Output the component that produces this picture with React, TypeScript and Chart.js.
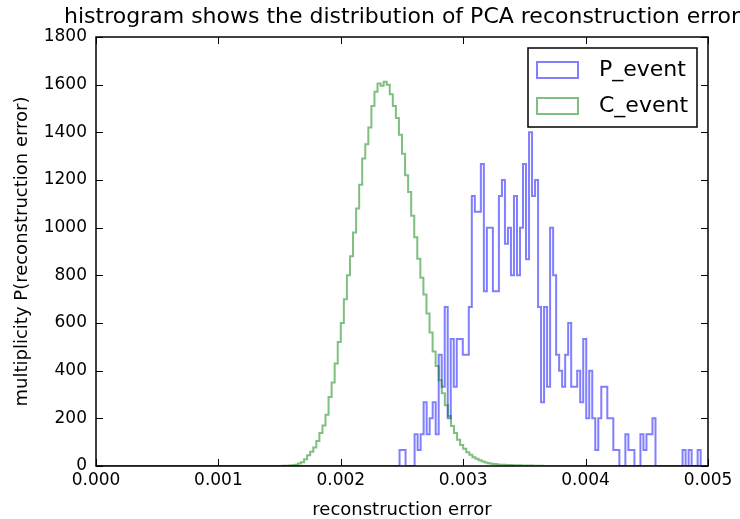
import React, { useEffect, useRef } from "react";
import { Chart, registerables } from "chart.js";
Chart.register(...registerables);

const FONT = '"DejaVu Sans", sans-serif';

const titleText = "histrogram shows the distribution of PCA reconstruction error";
const xTitle = "reconstruction error";
const yTitle = "multiplicity P(reconstruction error)";
const seriesNames = ["P_event", "C_event"];

const xMin = 0;
const xMax = 0.005;
const xStep = 0.001;
const yMin = 0;
const yMax = 1800;
const yStep = 200;

// C_event histogram: bin width and first non-empty bin start
const greenBinWidth = 0.000025;
const greenStart = 0.0015;
const greenCounts = [
  0, 1, 1, 2, 3, 5, 10, 16, 28, 45,
  60, 78, 105, 138, 170, 215, 290, 350, 430, 520,
  600, 700, 800, 880, 980, 1080, 1180, 1290, 1350, 1420,
  1510, 1570, 1605, 1595, 1612, 1600, 1560, 1510, 1460, 1390,
  1310, 1220, 1150, 1050, 960, 870, 790, 720, 640, 560,
  480, 420, 360, 305, 255, 210, 168, 138, 110, 88,
  72, 58, 47, 37, 30, 24, 19, 15, 12, 9,
  8, 6, 5, 5, 4, 4, 3, 3, 3, 2,
  2, 2, 2, 1, 1, 1,
];

// P_event histogram
const blueStart = 0.00248;
const blueEnd = 0.00494;
const blueCounts = [
  67, 67, 0, 0, 0, 133, 67, 133, 267, 133,
  200, 267, 133, 467, 333, 667, 200, 533, 333, 533,
  533, 467, 467, 667, 1133, 1067, 1067, 1267, 733, 1000,
  1000, 733, 733, 1133, 1200, 933, 1000, 800, 1133, 800,
  1000, 1267, 867, 1400, 1133, 1200, 667, 267, 667, 333,
  1000, 800, 467, 400, 333, 467, 600, 333, 333, 400,
  267, 533, 200, 400, 200, 67, 200, 333, 333, 200,
  200, 67, 67, 0, 0, 133, 67, 67, 0, 0,
  133, 67, 133, 133, 200, 0, 0, 0, 0, 0,
  0, 0, 0, 0, 67, 0, 67, 0, 0, 67,
];

const blueColor = "rgba(0,0,255,0.5)";
const greenColor = "rgba(0,128,0,0.5)";

function stepPoints(start: number, width: number, counts: number[]) {
  const pts: { x: number; y: number }[] = [{ x: xMin, y: 0 }, { x: start, y: 0 }];
  counts.forEach((c, i) => pts.push({ x: start + i * width, y: c }));
  const end = start + counts.length * width;
  pts.push({ x: end, y: 0 });
  if (end < xMax) pts.push({ x: xMax, y: 0 });
  return pts;
}

const decorPlugin = {
  id: "decor",
  afterDatasetsDraw(chart: any) {
    const { ctx, chartArea: a, scales } = chart;
    const line = (x1: number, y1: number, x2: number, y2: number) => {
      ctx.beginPath();
      ctx.moveTo(x1, y1);
      ctx.lineTo(x2, y2);
      ctx.stroke();
    };
    ctx.save();
    ctx.strokeStyle = "#000";
    ctx.lineWidth = 1;
    const tl = 7;
    scales.x.ticks.forEach((t: any) => {
      const px = Math.round(scales.x.getPixelForValue(t.value)) + 0.5;
      line(px, a.bottom, px, a.bottom - tl);
      line(px, a.top, px, a.top + tl);
    });
    scales.y.ticks.forEach((t: any) => {
      const py = Math.round(scales.y.getPixelForValue(t.value)) + 0.5;
      line(a.left, py, a.left + tl, py);
      line(a.right, py, a.right - tl, py);
    });
    ctx.lineWidth = 1.5;
    ctx.strokeRect(a.left, a.top, a.right - a.left, a.bottom - a.top);

    // legend
    const lx = 528, ly = 48, lw = 169, lh = 79;
    ctx.fillStyle = "#fff";
    ctx.fillRect(lx, ly, lw, lh);
    ctx.strokeStyle = "#000";
    ctx.lineWidth = 1.5;
    ctx.strokeRect(lx, ly, lw, lh);
    ctx.lineWidth = 2;
    ctx.strokeStyle = blueColor;
    ctx.strokeRect(537, 62, 41, 16);
    ctx.strokeStyle = greenColor;
    ctx.strokeRect(537, 98, 41, 16);
    ctx.fillStyle = "#000";
    ctx.font = `22px ${FONT}`;
    ctx.textAlign = "left";
    ctx.textBaseline = "middle";
    ctx.fillText(seriesNames[0], 599, 70);
    ctx.fillText(seriesNames[1], 599, 106);

    // titles
    const cx = (a.left + a.right) / 2;
    ctx.textAlign = "center";
    ctx.font = `22px ${FONT}`;
    ctx.fillText(titleText, cx, 17);
    ctx.font = `18px ${FONT}`;
    ctx.fillText(xTitle, cx, 510);
    ctx.save();
    ctx.translate(22, (a.top + a.bottom) / 2);
    ctx.rotate(-Math.PI / 2);
    ctx.fillText(yTitle, 0, 0);
    ctx.restore();
    ctx.restore();
  },
};

export default function App() {
  const ref = useRef<HTMLCanvasElement>(null);
  useEffect(() => {
    if (!ref.current) return;
    const chart = new Chart(ref.current, {
      type: "line",
      data: {
        datasets: [
          {
            label: seriesNames[1],
            data: stepPoints(greenStart, greenBinWidth, greenCounts),
            borderColor: greenColor,
            borderWidth: 2,
            pointRadius: 0,
            stepped: "before",
            fill: false,
            order: 0,
          },
          {
            label: seriesNames[0],
            data: stepPoints(blueStart, (blueEnd - blueStart) / blueCounts.length, blueCounts),
            borderColor: blueColor,
            borderWidth: 2,
            pointRadius: 0,
            stepped: "before",
            fill: false,
            order: 1,
          },
        ],
      },
      options: {
        responsive: false,
        animation: false,
        parsing: false,
        layout: { padding: { top: 37, right: 32, left: 0, bottom: 0 } },
        plugins: { legend: { display: false }, tooltip: { enabled: false }, title: { display: false } },
        scales: {
          x: {
            type: "linear",
            min: xMin,
            max: xMax,
            grid: { display: false, drawTicks: false },
            border: { display: false },
            ticks: {
              stepSize: xStep,
              color: "#000",
              padding: 4,
              font: { family: FONT, size: 17 },
              callback: (v: any) => Number(v).toFixed(3),
            },
            afterFit: (s: any) => {
              s.height = 53;
            },
          },
          y: {
            type: "linear",
            min: yMin,
            max: yMax,
            grid: { display: false, drawTicks: false },
            border: { display: false },
            ticks: {
              stepSize: yStep,
              color: "#000",
              padding: 9,
              font: { family: FONT, size: 17 },
              callback: (v: any) => String(Math.round(Number(v))),
            },
            afterFit: (s: any) => {
              s.width = 96;
            },
          },
        },
      },
      plugins: [decorPlugin],
    });
    return () => chart.destroy();
  }, []);
  return (
    <div style={{ position: "fixed", left: 0, top: 0, width: 740, height: 519, background: "#fff" }}>
      <canvas ref={ref} width={740} height={519} />
    </div>
  );
}
